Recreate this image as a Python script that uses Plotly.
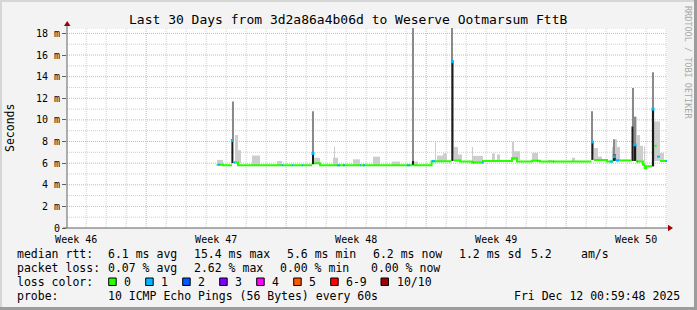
import plotly.graph_objects as go

# ---------------- data (days since start of window, milliseconds) ----------------
# median rtt, loss 0 (green) - step line, None = break
green_day = [7.48, 7.80, 8.25, None, 8.35, 8.55, 12.25, None, 12.35, 12.65, 17.28, None,
             17.33, 18.23, 19.22, None, 19.35, 19.65, 20.25, 20.80, 22.25, 22.50, 23.25,
             23.65, 26.22, None, 26.35, 27.00, 27.32, None, 27.42, 28.22, None, 28.45,
             28.80, 28.88, 28.95, 29.25, None, 29.38, 29.48, None, 29.65, 30.00]
green_ms = [5.85, 5.80, 5.80, None, 6.05, 5.80, 5.80, None, 6.00, 5.80, 5.80, None,
            5.80, 6.18, 6.18, None, 6.25, 6.16, 6.07, 6.20, 6.45, 6.16, 6.22,
            6.14, 6.14, None, 6.28, 6.15, 6.15, None, 6.25, 6.25, None, 6.15,
            5.85, 5.55, 5.72, 5.72, None, 7.60, 7.60, None, 6.20, 6.20]

# median rtt, loss 1/10 (blue) segments
blue_start = [7.55, 8.35, 10.75, 11.25, 11.75, 13.50, 13.80, 14.65, 14.80, 17.00, 18.25,
              20.30, 20.75, 23.50, 24.30, 27.15, 27.45, 28.50, 29.50, 29.93]
blue_end = [7.65, 8.40, 10.80, 11.30, 11.80, 13.65, 13.90, 14.70, 14.90, 17.15,
            18.40, 20.35, 20.80, 23.55, 24.35, 27.30, 27.60, 28.55, 29.65, 30.00]
blue_ms = [5.85, 6.05, 5.80, 5.80, 5.80, 5.80, 5.80, 5.80, 5.80, 5.80, 6.18,
           6.07, 6.07, 6.22, 6.14, 6.15, 6.25, 6.15, 6.60, 6.20]

# median at single spike samples (loss 1/10)
spike_day = [8.27, 12.30, 19.27, 26.27, 27.37, 28.40, 29.30]
spike_ms = [8.10, 6.90, 15.40, 7.95, 6.60, 7.70, 11.00]

# dense smoke (central pings)
dark_day = [8.27, 12.30, 17.32, 19.27, 26.27, 27.37, 28.28, 28.40, 29.30]
dark_w = [0.10, 0.10, 0.05, 0.11, 0.11, 0.15, 0.11, 0.12, 0.11]
dark_lo = [6.00, 5.90, 5.80, 6.20, 6.30, 6.20, 6.20, 6.20, 5.70]
dark_hi = [8.10, 6.90, 6.20, 15.40, 7.90, 6.80, 9.40, 7.70, 11.00]

# outer smoke of spikes (max ping)
peak_day = [8.32, 12.30, 17.32, 19.27, 26.27, 27.37, 28.28, 28.40, 29.30]
peak_w = [0.05, 0.05, 0.05, 0.05, 0.06, 0.05, 0.06, 0.06, 0.05]
peak_lo = [8.10, 6.90, 6.20, 15.40, 7.90, 6.80, 9.40, 7.70, 11.00]
peak_hi = [11.70, 10.80, 19.00, 19.00, 10.80, 8.20, 12.95, 10.30, 14.40]

# light smoke around the median
smoke_start = [7.50, 8.40, 8.50, 9.25, 10.50, 12.35, 13.30, 13.35, 14.30, 15.30, 16.25,
               17.35, 18.40, 18.50, 18.80, 19.40, 19.35, 20.25, 20.30, 21.25, 21.50,
               22.25, 22.35, 23.25, 24.05, 25.25, 26.35, 26.55, 27.25, 27.40, 28.35,
               28.50, 28.65, 28.85, 29.35, 29.65]
smoke_end = [7.80, 8.55, 8.70, 9.65, 10.75, 12.65, 13.55, 13.40, 14.65, 15.65, 16.65,
             17.55, 18.45, 19.00, 19.00, 19.75, 19.55, 20.30, 20.80, 21.40, 21.65,
             22.35, 22.65, 23.55, 24.25, 25.40, 26.55, 26.75, 27.65, 27.50, 28.50,
             28.65, 28.80, 28.90, 29.65, 29.85]
smoke_lo = [5.85, 6.00, 6.00, 5.80, 5.80, 5.90, 5.80, 5.80, 5.80, 5.80, 5.80,
            5.80, 6.20, 6.20, 6.20, 6.25, 6.25, 6.10, 6.07, 6.20, 6.20,
            6.30, 6.30, 6.20, 6.15, 6.16, 6.30, 6.30, 6.20, 6.20, 6.20,
            6.20, 6.20, 5.60, 6.20, 6.20]
smoke_hi = [6.30, 8.60, 7.20, 6.70, 6.20, 6.50, 6.50, 7.55, 6.35, 6.60, 6.15,
            6.15, 8.00, 6.70, 6.90, 6.80, 7.50, 7.50, 6.67, 6.90, 6.80,
            8.00, 7.10, 6.95, 6.30, 6.50, 7.40, 6.60, 7.50, 8.20, 10.30,
            8.60, 7.60, 7.55, 9.86, 6.95]

# axis labels
week_day = [0.46, 7.46, 14.46, 21.46, 28.46]
week_text = ["Week 46", "Week 47", "Week 48", "Week 49", "Week 50"]
y_vals = [0, 2, 4, 6, 8, 10, 12, 14, 16, 18]
y_text = ["0", "2 m", "4 m", "6 m", "8 m", "10 m", "12 m", "14 m", "16 m", "18 m"]
day_lines = [0.96 + k for k in range(30)]
week_lines = [3.96, 10.96, 17.96, 24.96]

title = "Last 30 Days from 3d2a86a4b06d to Weserve Ootmarsum FttB"
row1 = ["median rtt:", "6.1 ms avg", "15.4 ms max", "5.6 ms min", "6.2 ms now", "1.2 ms sd", "5.2", "am/s"]
row2 = ["packet loss:", "0.07 % avg", "2.62 % max", "0.00 % min", "0.00 % now"]
loss_labels = ["0", "1", "2", "3", "4", "5", "6-9", "10/10"]
loss_colors = ["#26ff00", "#00b8ff", "#0059ff", "#7e00ff", "#ff00ff", "#ff5500", "#ff0000", "#a10000"]
probe = ["probe:", "10 ICMP Echo Pings (56 Bytes) every 60s", "Fri Dec 12 00:59:48 2025"]

# ---------------- layout helpers ----------------
W, H = 697, 310
PL, PR, PT, PB = 67, 667, 28, 228
FONT = "DejaVu Sans Mono"


def fx(px):
    return (px - PL) / (PR - PL)


def fy(py):
    return (PB - py) / (PB - PT)


def bars(starts, ends, lo, hi, color):
    return go.Bar(x=[(a + b) / 2 for a, b in zip(starts, ends)],
                  width=[b - a for a, b in zip(starts, ends)],
                  base=lo, y=[h - l for h, l in zip(hi, lo)],
                  marker=dict(color=color, line=dict(width=0)),
                  hoverinfo="skip", showlegend=False)


fig = go.Figure()
fig.add_trace(bars(smoke_start, smoke_end, smoke_lo, smoke_hi, "#cdcdcd"))
fig.add_trace(go.Bar(x=peak_day, width=peak_w, base=peak_lo,
                     y=[h - l for h, l in zip(peak_hi, peak_lo)],
                     marker=dict(color="#8a8a8a", line=dict(width=0)), showlegend=False))
fig.add_trace(go.Bar(x=dark_day, width=dark_w, base=dark_lo,
                     y=[h - l for h, l in zip(dark_hi, dark_lo)],
                     marker=dict(color="#1c1c1c", line=dict(width=0)), showlegend=False))
fig.add_trace(go.Scatter(x=green_day, y=green_ms, mode="lines", line=dict(color="#26ff00", width=2, shape="hv"),
                         connectgaps=False, showlegend=False))
bx, by = [], []
for s, e, v in zip(blue_start, blue_end, blue_ms):
    bx += [s, e, None]
    by += [v, v, None]
fig.add_trace(go.Scatter(x=bx, y=by, mode="lines", line=dict(color="#00b8ff", width=2), showlegend=False))
fig.add_trace(go.Scatter(x=spike_day, y=spike_ms, mode="markers",
                         marker=dict(color="#00b8ff", size=3, symbol="square", line=dict(width=0)),
                         showlegend=False))

shapes = []
# grid
for v in range(1, 19):
    major = v % 2 == 0
    shapes.append(dict(type="line", xref="paper", yref="y", x0=0, x1=1, y0=v, y1=v, layer="below",
                       line=dict(color="#f0a8a8" if major else "#cfcfcf", width=1, dash="1px,1px")))
shapes.append(dict(type="line", xref="paper", yref="y", x0=0, x1=1, y0=18.5, y1=18.5, layer="below",
                   line=dict(color="#cfcfcf", width=1, dash="1px,1px")))
for d in day_lines:
    major = any(abs(d - w) < 1e-6 for w in week_lines)
    shapes.append(dict(type="line", xref="x", yref="paper", x0=d, x1=d, y0=0, y1=1, layer="below",
                       line=dict(color="#f0a8a8" if major else "#cfcfcf", width=1, dash="1px,1px")))
# axes
shapes.append(dict(type="line", xref="paper", yref="paper", x0=fx(67), x1=fx(67), y0=0, y1=fy(24),
                   line=dict(color="#606060", width=1)))
shapes.append(dict(type="line", xref="paper", yref="paper", x0=fx(63), x1=fx(669), y0=0, y1=0,
                   line=dict(color="#606060", width=1)))
shapes.append(dict(type="path", xref="paper", yref="paper",
                   path=f"M {fx(64)},{fy(26)} L {fx(70.5)},{fy(26)} L {fx(67.2)},{fy(21)} Z",
                   fillcolor="#a00000", line=dict(width=0)))
shapes.append(dict(type="path", xref="paper", yref="paper",
                   path=f"M {fx(668)},{fy(224.8)} L {fx(668)},{fy(231.3)} L {fx(673)},{fy(228)} Z",
                   fillcolor="#a00000", line=dict(width=0)))
# frame of the image
shapes.append(dict(type="rect", xref="paper", yref="paper", x0=fx(0), x1=fx(697), y0=fy(0), y1=fy(2),
                   fillcolor="#d6d6d6", line=dict(width=0)))
shapes.append(dict(type="rect", xref="paper", yref="paper", x0=fx(0), x1=fx(2), y0=fy(0), y1=fy(310),
                   fillcolor="#d6d6d6", line=dict(width=0)))
shapes.append(dict(type="rect", xref="paper", yref="paper", x0=fx(0), x1=fx(697), y0=fy(307), y1=fy(310),
                   fillcolor="#9c9c9c", line=dict(width=0)))
shapes.append(dict(type="rect", xref="paper", yref="paper", x0=fx(694), x1=fx(697), y0=fy(0), y1=fy(310),
                   fillcolor="#9c9c9c", line=dict(width=0)))

ann = []


def text(t, px, py, size=11.5, anchor="left", color="#000000", angle=0):
    ann.append(dict(text=t, x=fx(px), y=fy(py), xref="paper", yref="paper", showarrow=False,
                    xanchor=anchor, yanchor="middle", textangle=angle, borderpad=0,
                    font=dict(family=FONT, size=size, color=color)))


text(title, 347.5, 19, size=13, anchor="center")
text("Seconds", 10, 128, size=11.5, anchor="center", angle=-90)
text("RRDTOOL / TOBI OETIKER", 688, 62, size=8.5, anchor="center", color="#a8a8a8", angle=90)

for t, px in zip(row1, [16, 107, 193, 286, 372, 458, 530, 580]):
    text(t, px, 254)
for t, px in zip(row2, [16, 107, 193, 279, 370]):
    text(t, px, 268)
text("loss color:", 16, 282)
box_x = [108.7, 145.7, 182.7, 219.7, 256.7, 293.7, 330.7, 381.0]
for lab, col, bxp in zip(loss_labels, loss_colors, box_x):
    shapes.append(dict(type="rect", xref="paper", yref="paper", x0=fx(bxp), x1=fx(bxp + 7.5),
                       y0=fy(278), y1=fy(285.5), fillcolor=col, line=dict(color="#000000", width=1)))
    text(lab, bxp + 14.5, 282)
for t, px in zip(probe, [16, 107, 513]):
    text(t, px, 296)

fig.update_layout(
    width=W, height=H,
    margin=dict(l=PL, r=W - PR, t=PT, b=H - PB, pad=0),
    paper_bgcolor="#f3f3f3", plot_bgcolor="#ffffff",
    barmode="overlay", showlegend=False,
    shapes=shapes, annotations=ann,
    font=dict(family=FONT, color="#000000"),
    xaxis=dict(range=[0, 30], showgrid=False, zeroline=False, showline=False,
               tickmode="array", tickvals=week_day, ticktext=week_text,
               ticks="outside", ticklen=2, tickcolor="rgba(0,0,0,0)",
               tickfont=dict(family=FONT, size=10, color="#000000"), fixedrange=True),
    yaxis=dict(range=[0, 18.5], showgrid=False, zeroline=False, showline=False,
               tickmode="array", tickvals=y_vals, ticktext=y_text, ticks="outside", ticklen=4,
               tickcolor="#606060", tickfont=dict(family=FONT, size=10, color="#000000"),
               fixedrange=True),
)

fig.write_html("out.html")
